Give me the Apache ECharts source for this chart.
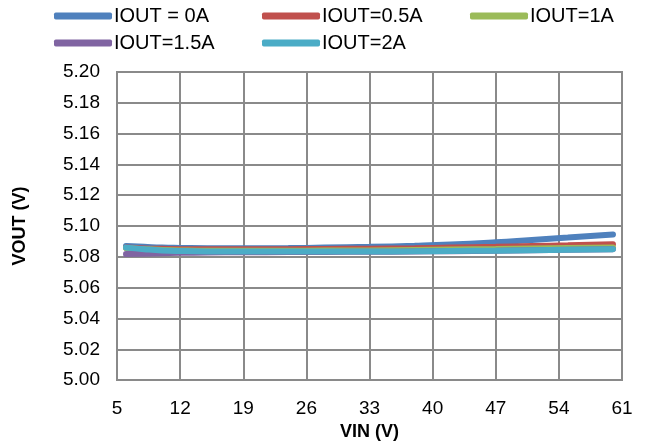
<!DOCTYPE html>
<html>
<head>
<meta charset="utf-8">
<script src="https://cdn.jsdelivr.net/npm/echarts@6/dist/echarts.min.js"></script>
<style>html,body{margin:0;padding:0;background:#fff}#c{width:649px;height:446px}</style>
</head>
<body>
<div id="c"></div>
<script>
const vin = [6, 8, 10, 12, 15, 19, 24, 28, 33, 38, 42, 47, 51, 55, 60];
const seriesNames = ['IOUT = 0A', 'IOUT=0.5A', 'IOUT=1A', 'IOUT=1.5A', 'IOUT=2A'];
const iout0 = [5.0870, 5.0865, 5.0860, 5.0858, 5.0856, 5.0856, 5.0857, 5.0860, 5.0865, 5.0872, 5.0880, 5.0895, 5.0910, 5.0925, 5.0945];
const iout05 = [5.0860, 5.0855, 5.0852, 5.0850, 5.0850, 5.0850, 5.0850, 5.0851, 5.0853, 5.0856, 5.0860, 5.0865, 5.0870, 5.0875, 5.0882];
const iout1 = [5.0858, 5.0850, 5.0845, 5.0842, 5.0840, 5.0840, 5.0840, 5.0841, 5.0842, 5.0845, 5.0848, 5.0851, 5.0854, 5.0857, 5.0860];
const iout15 = [5.0818, 5.0820, 5.0823, 5.0826, 5.0828, 5.0830, 5.0831, 5.0832, 5.0833, 5.0835, 5.0837, 5.0840, 5.0843, 5.0846, 5.0850];
const iout2 = [5.0860, 5.0850, 5.0842, 5.0838, 5.0835, 5.0834, 5.0834, 5.0834, 5.0835, 5.0836, 5.0838, 5.0840, 5.0843, 5.0846, 5.0850];
const yTicks = { min: 5.00, max: 5.20, step: 0.02 };
const xTicks = { min: 5, max: 61, step: 7 };
const colors = ['#4F81BD', '#C0504D', '#9BBB59', '#8064A2', '#4BACC6'];
const values = [iout0, iout05, iout1, iout15, iout2];

const legendPos = [[54, 6], [262, 6], [470, 6], [54, 33], [262, 33]];
const font = 'Liberation Sans, Arial, sans-serif';

const chart = echarts.init(document.getElementById('c'));
chart.setOption({
  animation: false,
  color: colors,
  grid: { left: 117, right: 27, top: 72, bottom: 63 },
  legend: seriesNames.map((n, i) => ({
    data: [n], left: legendPos[i][0], top: legendPos[i][1],
    icon: 'roundRect', itemWidth: 58, itemHeight: 7, itemGap: 0,
    padding: [0, 0, 0, 0],
    textStyle: { fontSize: 20, color: '#000', fontFamily: font, padding: [0, 0, 0, -3] }
  })),
  xAxis: {
    type: 'value', min: xTicks.min, max: xTicks.max, interval: xTicks.step,
    name: 'VIN (V)', nameLocation: 'middle', nameGap: 40,
    nameTextStyle: { fontSize: 18, fontWeight: 'bold', color: '#000', fontFamily: font },
    axisLine: { show: false }, axisTick: { show: false },
    axisLabel: { fontSize: 19, color: '#000', fontFamily: font, margin: 19 },
    splitLine: { show: true, lineStyle: { color: '#8a8a8a', width: 2 } }
  },
  yAxis: {
    type: 'value', min: yTicks.min, max: yTicks.max, interval: yTicks.step,
    name: 'VOUT (V)', nameLocation: 'middle', nameGap: 88,
    nameTextStyle: { fontSize: 18, fontWeight: 'bold', color: '#000', fontFamily: font },
    axisLine: { show: false }, axisTick: { show: false },
    axisLabel: { fontSize: 19, color: '#000', fontFamily: font, margin: 17, formatter: v => v.toFixed(2) },
    splitLine: { show: true, lineStyle: { color: '#8a8a8a', width: 2 } }
  },
  series: seriesNames.map((n, i) => ({
    name: n, type: 'line', smooth: true, symbol: 'none',
    lineStyle: { width: 6, color: colors[i], cap: 'round' },
    data: vin.map((x, j) => [x, values[i][j]])
  }))
});
const g = chart.getModel().getComponent('grid').coordinateSystem.getRect();
chart.setOption({ graphic: [{ type: 'rect', shape: { x: g.x, y: g.y, width: g.width, height: g.height }, style: { fill: 'none', stroke: '#8a8a8a', lineWidth: 2 }, silent: true, z: -1 }] });
</script>
</body>
</html>
